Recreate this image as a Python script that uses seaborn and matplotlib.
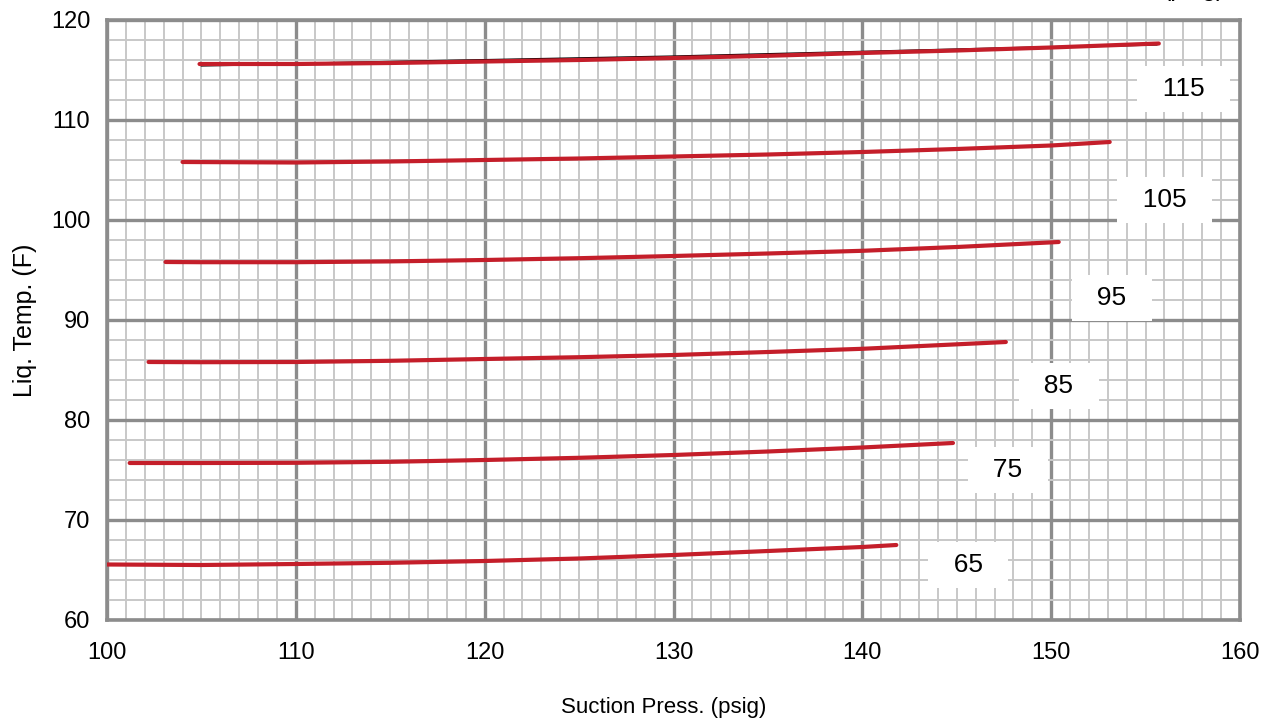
import numpy as np
import pandas as pd
import matplotlib
matplotlib.use("Agg")
import matplotlib.pyplot as plt
import seaborn as sns
from matplotlib.ticker import MultipleLocator

# curve data (suction press. vs liquid temp.)
x_65 = [100.0, 105.0, 110.0, 115.0, 120.0, 125.0, 130.0, 135.0, 140.0, 141.8]
y_65 = [65.55, 65.5, 65.6, 65.72, 65.9, 66.15, 66.5, 66.9, 67.3, 67.5]

x_75 = [101.2, 105.0, 110.0, 115.0, 120.0, 125.0, 130.0, 135.0, 140.0, 144.8]
y_75 = [75.7, 75.7, 75.72, 75.82, 76.0, 76.22, 76.5, 76.85, 77.25, 77.7]

x_85 = [102.2, 105.0, 110.0, 115.0, 120.0, 125.0, 130.0, 135.0, 140.0, 147.6]
y_85 = [85.8, 85.78, 85.8, 85.92, 86.1, 86.28, 86.5, 86.8, 87.12, 87.8]

x_95 = [103.1, 105.0, 110.0, 115.0, 120.0, 125.0, 130.0, 135.0, 140.0, 145.0, 150.4]
y_95 = [95.8, 95.78, 95.78, 95.86, 96.0, 96.18, 96.4, 96.65, 96.92, 97.3, 97.8]

x_105 = [104.0, 110.0, 115.0, 120.0, 125.0, 130.0, 135.0, 140.0, 145.0, 150.0, 153.1]
y_105 = [105.8, 105.75, 105.85, 106.0, 106.15, 106.35, 106.55, 106.8, 107.1, 107.45, 107.8]

x_115 = [104.9, 110.0, 115.0, 120.0, 125.0, 130.0, 135.0, 140.0, 145.0, 150.0, 155.7]
y_115 = [115.6, 115.6, 115.7, 115.85, 116.0, 116.2, 116.42, 116.7, 116.95, 117.25, 117.65]

# thin black reference line under the top curve
x_ref = [105.0, 130.0, 155.6]
y_ref = [115.45, 116.35, 117.55]

temps = [65, 75, 85, 95, 105, 115]
label_x = [145.6, 147.7, 150.4, 153.2, 156.0, 157.0]
label_y = [65.5, 75.0, 83.4, 92.2, 102.0, 113.1]

curves = {65: (x_65, y_65), 75: (x_75, y_75), 85: (x_85, y_85),
          95: (x_95, y_95), 105: (x_105, y_105), 115: (x_115, y_115)}
frames = []
for t, (xs, ys) in curves.items():
    frames.append(pd.DataFrame({"press": xs, "temp": ys, "curve": t}))
df = pd.concat(frames, ignore_index=True)

sns.set_style("white")
plt.rcParams["font.family"] = ["Liberation Sans", "DejaVu Sans"]
plt.rcParams["text.color"] = "black"
plt.rcParams["xtick.color"] = "black"
plt.rcParams["ytick.color"] = "black"
plt.rcParams["axes.labelcolor"] = "black"

fig = plt.figure(figsize=(12.7, 7.27), dpi=100)
ax = fig.add_axes([107 / 1270, 1 - 620 / 727, (1240 - 107) / 1270, 600 / 727])

ax.set_xlim(100, 160)
ax.set_ylim(60, 120)
ax.xaxis.set_major_locator(MultipleLocator(10))
ax.xaxis.set_minor_locator(MultipleLocator(1))
ax.yaxis.set_major_locator(MultipleLocator(10))
ax.yaxis.set_minor_locator(MultipleLocator(2))
ax.grid(which="minor", color="#c8c8c8", linewidth=1.4, zorder=0)
ax.grid(which="major", color="#8c8c8c", linewidth=2.4, zorder=0)
ax.set_axisbelow(True)
ax.tick_params(which="both", length=0, labelsize=17)
ax.tick_params(axis="x", pad=16)
ax.tick_params(axis="y", pad=12)
for s in ax.spines.values():
    s.set_color("#8c8c8c")
    s.set_linewidth(2.6)

ax.plot(x_ref, y_ref, color="black", linewidth=1.6, zorder=2)
sns.lineplot(data=df, x="press", y="temp", hue="curve", units="curve", estimator=None,
             sort=False, palette=["#c41e2a"] * len(temps), linewidth=3.0,
             legend=False, ax=ax, zorder=3)

for t, lx, ly in zip(temps, label_x, label_y):
    ax.text(lx, ly, f"  {t}  ", fontsize=19, ha="center", va="center", zorder=4,
            bbox=dict(boxstyle="square,pad=0.4", facecolor="white", edgecolor="none"))

ax.set_xlabel("Suction Press. (psig)", fontsize=16, va="center")
ax.xaxis.set_label_coords(0.491, -0.145)
ax.set_ylabel("Liq. Temp. (F)", fontsize=18, va="center")
ax.yaxis.set_label_coords(-0.0724, 0.5)

# partially cut text at the top right edge
fig.text(1225 / 1270, 1 + 4 / 727, "(psig)", fontsize=18, ha="right", va="baseline")

fig.savefig("out.png", dpi=100)
